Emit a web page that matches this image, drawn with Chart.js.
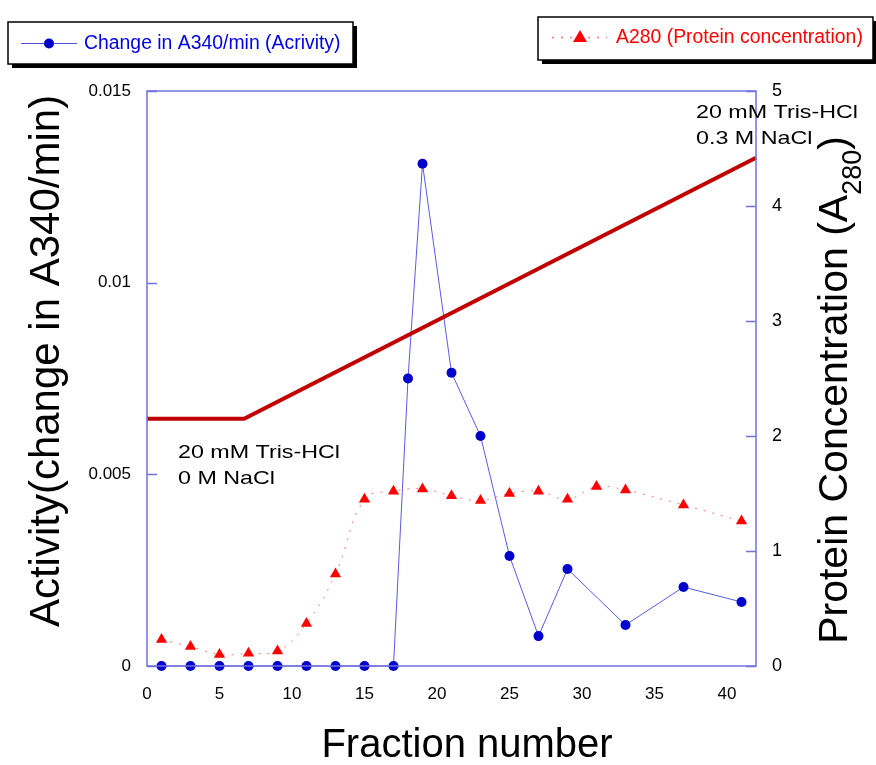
<!DOCTYPE html>
<html>
<head>
<meta charset="utf-8">
<script src="https://cdn.jsdelivr.net/npm/chart.js@4.4.1/dist/chart.umd.min.js"></script>
<style>
  body { margin: 0; background: #fff; }
  #wrap { width: 876px; height: 765px; }
</style>
</head>
<body>
<div id="wrap"><canvas id="myChart" width="876" height="765"></canvas></div>
<script>
// activity (left axis)
const activityFractions = [1, 3, 5, 7, 9, 11, 13, 15, 17, 18, 19, 21, 23, 25, 27, 29, 33, 37, 41]
const activityValues = [0, 0, 0, 0, 0, 0, 0, 0, 0, 0.0075, 0.0131, 0.00765, 0.006, 0.00287, 0.00078, 0.00253, 0.00107, 0.00206, 0.00167]

// A280 (right axis)
const proteinFractions = [1, 3, 5, 7, 9, 11, 13, 15, 17, 19, 21, 23, 25, 27, 29, 31, 33, 37, 41]
const proteinValues = [0.23, 0.17, 0.1, 0.11, 0.13, 0.37, 0.8, 1.45, 1.52, 1.54, 1.48, 1.44, 1.5, 1.52, 1.45, 1.56, 1.53, 1.4, 1.26]

// NaCl gradient, drawn on the right axis scale
const saltFractions = [0, 6.7, 42]
const saltLevels = [2.15, 2.15, 4.42]

const lowSaltText = ["20 mM Tris-HCl", "0 M NaCl"]
const highSaltText = ["20 mM Tris-HCl", "0.3 M NaCl"]

const FONT = "Arial, 'Liberation Sans', sans-serif"

function pts(xs, ys) {
  const out = []
  for (let i = 0; i < xs.length; i++) out.push({ x: xs[i], y: ys[i] })
  return out
}

// frame, inside ticks, titles, notes and the two legend boxes
const decor = {
  id: "decor",
  afterDraw(chart) {
    const ctx = chart.ctx
    const a = chart.chartArea
    const sy = chart.scales.y, sy1 = chart.scales.y1
    ctx.save()

    ctx.strokeStyle = "#7070e0"
    ctx.lineWidth = 1.5
    ctx.strokeRect(a.left, a.top, a.right - a.left, a.bottom - a.top)
    ctx.beginPath()
    sy.ticks.forEach(t => {
      const p = Math.round(sy.getPixelForValue(t.value)) + 0.5
      ctx.moveTo(a.left, p); ctx.lineTo(a.left + 10, p)
    })
    sy1.ticks.forEach(t => {
      const p = Math.round(sy1.getPixelForValue(t.value)) + 0.5
      ctx.moveTo(a.right - 10, p); ctx.lineTo(a.right, p)
    })
    ctx.stroke()

    ctx.fillStyle = "#000"
    // x title
    ctx.font = "40px " + FONT
    ctx.textAlign = "center"
    ctx.textBaseline = "alphabetic"
    ctx.fillText("Fraction number", 467, 757)

    // left title
    ctx.save()
    ctx.translate(59, 361)
    ctx.rotate(-Math.PI / 2)
    ctx.font = "42px " + FONT
    ctx.fillText("Activity(change in A340/min)", 0, 0)
    ctx.restore()

    // right title with subscript
    ctx.save()
    ctx.translate(847, 390)
    ctx.rotate(-Math.PI / 2)
    ctx.textAlign = "left"
    const mainT = "Protein Concentration (A"
    ctx.font = "41px " + FONT
    const w1 = ctx.measureText(mainT).width
    ctx.font = "27px " + FONT
    const w2 = ctx.measureText("280").width
    ctx.font = "41px " + FONT
    const w3 = ctx.measureText(")").width
    let x0 = -(w1 + w2 + w3) / 2
    ctx.fillText(mainT, x0, 0)
    ctx.font = "27px " + FONT
    ctx.fillText("280", x0 + w1, 14)
    ctx.font = "41px " + FONT
    ctx.fillText(")", x0 + w1 + w2, 0)
    ctx.restore()

    // buffer notes
    ctx.font = "19px " + FONT
    ctx.textAlign = "left"
    const k = 162 / ctx.measureText(lowSaltText[0]).width
    function note(lines, x, y) {
      ctx.save()
      ctx.translate(x, y)
      ctx.scale(k, 1)
      lines.forEach((s, i) => ctx.fillText(s, 0, i * 26))
      ctx.restore()
    }
    note(lowSaltText, 178, 458)
    note(highSaltText, 696, 118)

    // legend boxes
    function box(x, y, w, h) {
      ctx.fillStyle = "#000"
      ctx.fillRect(x + 4, y + 4, w, h)
      ctx.fillStyle = "#fff"
      ctx.fillRect(x, y, w, h)
      ctx.strokeStyle = "#000"
      ctx.lineWidth = 1.5
      ctx.strokeRect(x, y, w, h)
    }
    const ds = chart.data.datasets
    box(8, 22, 345, 42)
    ctx.strokeStyle = "#5050e0"
    ctx.lineWidth = 1
    ctx.beginPath(); ctx.moveTo(21, 43.5); ctx.lineTo(77, 43.5); ctx.stroke()
    ctx.fillStyle = "#0000cc"
    ctx.beginPath(); ctx.arc(49, 43.5, 5, 0, Math.PI * 2); ctx.fill()
    ctx.font = "19.4px " + FONT
    ctx.textBaseline = "middle"
    ctx.fillStyle = "#0000e6"
    ctx.fillText(ds[1].label, 84, 44)

    box(538, 17, 335, 43)
    ctx.strokeStyle = "rgba(255,60,60,0.7)"
    ctx.setLineDash([2, 7])
    ctx.beginPath(); ctx.moveTo(552, 37.5); ctx.lineTo(607, 37.5); ctx.stroke()
    ctx.setLineDash([])
    ctx.fillStyle = "#ff0000"
    ctx.beginPath()
    ctx.moveTo(580, 30); ctx.lineTo(587, 42); ctx.lineTo(573, 42); ctx.closePath(); ctx.fill()
    ctx.font = "19.4px " + FONT
    ctx.fillText(ds[2].label, 616, 38)

    ctx.restore()
  }
}

const data = {
  datasets: [
    {
      label: "NaCl gradient",
      data: pts(saltFractions, saltLevels),
      yAxisID: "y1",
      showLine: true,
      borderColor: "#c00000",
      borderWidth: 4,
      pointRadius: 0,
      clip: false,
    },
    {
      label: "Change in A340/min (Acrivity)",
      data: pts(activityFractions, activityValues),
      yAxisID: "y",
      showLine: true,
      borderColor: "#5a5ae6",
      borderWidth: 1,
      pointRadius: 5,
      pointBackgroundColor: "#0000cc",
      pointBorderColor: "#0000cc",
      pointBorderWidth: 0,
      clip: false,
    },
    {
      label: "A280 (Protein concentration)",
      data: pts(proteinFractions, proteinValues),
      yAxisID: "y1",
      showLine: true,
      tension: 0.4,
      borderColor: "rgba(255,60,60,0.7)",
      borderWidth: 1,
      borderDash: [2, 7],
      pointStyle: "triangle",
      pointRadius: 6.5,
      pointBackgroundColor: "#ff0000",
      pointBorderColor: "#ff0000",
      pointBorderWidth: 0,
      clip: false,
    },
  ],
}

const config = {
  type: "scatter",
  data: data,
  options: {
    responsive: false,
    animation: false,
    layout: { padding: { top: 91, left: 0, right: 0, bottom: 0 } },
    plugins: { legend: { display: false }, tooltip: { enabled: false } },
    scales: {
      x: {
        type: "linear",
        min: 0,
        max: 42,
        grid: { display: false },
        border: { display: false },
        ticks: { stepSize: 5, includeBounds: false, padding: 10, color: "#000", font: { size: 17, family: FONT } },
        afterFit(s) { s.height = 99 },
      },
      y: {
        position: "left",
        min: 0,
        max: 0.015,
        grid: { display: false },
        border: { display: false },
        ticks: {
          stepSize: 0.005,
          padding: 8,
          color: "#000",
          font: { size: 17, family: FONT },
          callback: v => String(+v.toFixed(3)),
        },
        afterFit(s) { s.width = 147 },
      },
      y1: {
        position: "right",
        min: 0,
        max: 5,
        grid: { display: false },
        border: { display: false },
        ticks: { stepSize: 1, padding: 8, color: "#000", font: { size: 18, family: FONT } },
        afterFit(s) { s.width = 120 },
      },
    },
  },
  plugins: [decor],
}

const myChart = new Chart(document.getElementById("myChart"), config)
</script>
</body>
</html>
